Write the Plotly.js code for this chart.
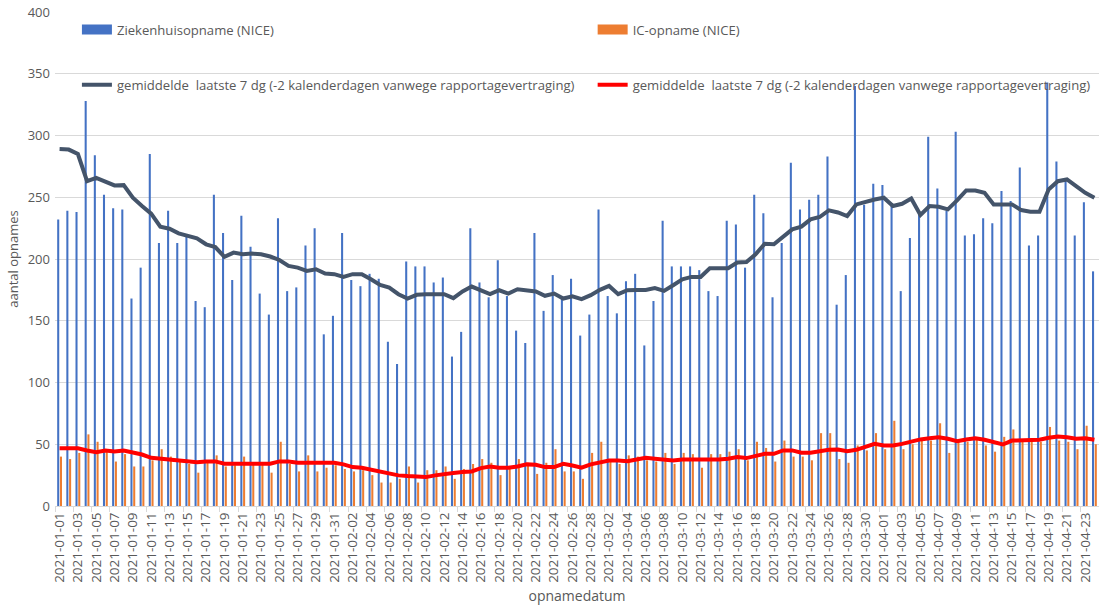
<!DOCTYPE html>
<html>
<head>
<meta charset="utf-8">
<script src="https://cdn.plot.ly/plotly-3.0.1.min.js"></script>
<style>
  html, body { margin: 0; padding: 0; background: #fff; }
  #grafiek { width: 1099px; height: 609px; }
</style>
</head>
<body>
<div id="grafiek"></div>
<script>
// opnamedatum: 2021-01-01 t/m 2021-04-24
var datums = [];
var d = new Date(Date.UTC(2021, 0, 1));
for (var i = 0; i < 114; i++) {
  datums.push(d.toISOString().slice(0, 10));
  d.setUTCDate(d.getUTCDate() + 1);
}

var ziekenhuis = [232, 239, 238, 328, 284, 252, 241, 240, 168, 193,
  285, 213, 239, 213, 219, 166, 161, 252, 221, 183,
  235, 210, 172, 155, 233, 174, 177, 211, 225, 139,
  154, 221, 183, 178, 188, 184, 133, 115, 198, 194,
  194, 181, 185, 121, 141, 225, 181, 169, 199, 170,
  142, 132, 221, 158, 187, 168, 184, 138, 155, 240,
  170, 156, 182, 188, 130, 166, 231, 194, 194, 194,
  191, 174, 170, 231, 228, 193, 252, 237, 169, 213,
  278, 240, 248, 252, 283, 163, 187, 340, 244, 261,
  260, 243, 174, 217, 238, 299, 257, 239, 303, 219,
  220, 233, 229, 255, 247, 274, 211, 219, 343, 279,
  265, 219, 246, 190];

var ic = [40, 38, 43, 58, 52, 44, 36, 42, 32, 32,
  37, 46, 40, 37, 34, 27, 35, 41, 32, 33,
  40, 34, 34, 27, 52, 34, 28, 41, 28, 31,
  33, 30, 28, 29, 25, 19, 19, 22, 32, 19,
  29, 29, 32, 22, 30, 34, 38, 35, 25, 30,
  38, 35, 26, 35, 46, 28, 28, 22, 43, 52,
  38, 34, 41, 40, 37, 36, 43, 34, 43, 42,
  31, 42, 42, 44, 46, 37, 52, 47, 36, 53,
  40, 40, 37, 59, 59, 38, 35, 49, 45, 59,
  46, 69, 46, 50, 53, 53, 67, 43, 52, 52,
  54, 49, 44, 56, 62, 53, 52, 52, 64, 53,
  52, 46, 65, 50];

var gemZiekenhuis = [289, 288.6, 285, 263, 265.7, 262.5, 259.6, 259.8, 249.6, 242.9,
  236.7, 226.2, 224.5, 220.8, 218.6, 216.7, 211.9, 209.7, 201.7, 205.2,
  203.8, 204.4, 203.8, 202, 199.2, 194.4, 193, 190.4, 191.7, 188.2,
  187.7, 185.5, 187.7, 187.7, 183.6, 179, 176.9, 171.5, 168, 171,
  171.5, 171.5, 171.5, 168.3, 173.7, 177.7, 175, 171.5, 174.7, 172,
  175.5, 174.7, 173.7, 170.2, 172, 168, 169.8, 167.5, 170.7, 175,
  178.2, 171.5, 174.7, 175, 175, 176.4, 174.2, 178.8, 183.6, 185.5,
  185.5, 192.5, 192.5, 192.5, 197.1, 197.6, 203.8, 212.4, 211.9, 218.1,
  224, 226.2, 232.1, 234, 239.4, 237.7, 234.8, 244.2, 246.4, 248.2,
  249.6, 242.9, 244.7, 249, 235.6, 242.9, 242.3, 240.2, 247.4, 255.5,
  255.5, 253.6, 244.2, 244.2, 244.2, 239.6, 238.3, 238.3, 256.3, 263,
  264.4, 259, 253.6, 249.6];

var gemIc = [46.8, 46.8, 46.8, 45, 43.6, 45, 44.2, 45, 43.6, 41.7,
  39, 38.2, 37.4, 37.4, 36.1, 35.5, 36.1, 36.1, 34.2, 34.2,
  34.2, 34.2, 34.7, 34.2, 36.1, 36.1, 35, 35, 34.2, 34.2,
  35, 33.7, 31.5, 31, 29.3, 27.5, 26.1, 24.8, 24.2, 23.4,
  23.4, 24.8, 26.1, 26.7, 27.5, 28, 30.7, 32, 31, 31,
  32, 33.7, 33.4, 31.5, 31.5, 34.2, 32.8, 31, 33.7, 35.5,
  36.9, 36.9, 36.3, 37.7, 39, 38.2, 37.4, 36.9, 37.7, 37.7,
  36.9, 36.9, 37.7, 38.2, 39.6, 38.8, 40.9, 42.3, 42.3, 45,
  45, 43.1, 43.1, 44.4, 45.5, 45.8, 44.4, 45.5, 48.2, 50.3,
  49, 49, 50.3, 52.5, 53.9, 54.9, 55.7, 54.4, 52.5, 53.9,
  54.9, 53.6, 51.7, 49.8, 53, 53, 53, 53.6, 55.2, 56.3,
  55.7, 54.4, 54.9, 53.6];

var blauw = '#4472C4';
var oranje = '#ED7D31';
var donker = '#44546A';
var rood = '#FF0000';
var tekstKleur = '#595959';
var gemTekst = 'gemiddelde\u00a0 laatste 7 dg (-2 kalenderdagen vanwege rapportagevertraging)';

var data = [
  {x: datums, y: ziekenhuis, type: 'bar', name: 'Ziekenhuisopname (NICE)',
   marker: {color: blauw}, showlegend: false, hoverinfo: 'x+y'},
  {x: datums, y: ic, type: 'bar', name: 'IC-opname (NICE)',
   marker: {color: oranje}, showlegend: false, hoverinfo: 'x+y'},
  {x: datums, y: gemZiekenhuis, type: 'scatter', mode: 'lines', name: gemTekst,
   line: {color: donker, width: 4}, legend: 'legend3'},
  {x: datums, y: gemIc, type: 'scatter', mode: 'lines', name: gemTekst,
   line: {color: rood, width: 4}, legend: 'legend4'},
  // legenda-blokjes voor de staven (breed rechthoekje zoals in Excel)
  {x: [null], y: [null], type: 'scatter', mode: 'lines', name: 'Ziekenhuisopname (NICE)',
   line: {color: blauw, width: 10}, legend: 'legend'},
  {x: [null], y: [null], type: 'scatter', mode: 'lines', name: 'IC-opname (NICE)',
   line: {color: oranje, width: 10}, legend: 'legend2'}
];

var legendFont = {family: 'Open Sans', size: 13.1, color: tekstKleur};
function legenda(x, y) {
  return {x: x, y: y, xanchor: 'left', yanchor: 'middle', orientation: 'h',
    bgcolor: 'rgba(0,0,0,0)', borderwidth: 0, font: legendFont, itemwidth: 30};
}

var layout = {
  width: 1099,
  height: 609,
  margin: {l: 55, r: 0, t: 12, b: 103},
  font: {family: 'Open Sans', color: tekstKleur},
  barmode: 'group',
  bargap: 0.4,
  bargroupgap: 0.25,
  xaxis: {
    type: 'category',
    range: [-0.5, 113.5],
    dtick: 2,
    tickangle: -90,
    tickfont: {size: 13.5, color: tekstKleur},
    ticks: 'outside',
    tickson: 'boundaries',
    ticklen: 5,
    tickcolor: '#D9D9D9',
    showline: true,
    linecolor: '#D9D9D9',
    showgrid: false,
    title: {text: 'opnamedatum', font: {size: 14, color: tekstKleur}, standoff: 9}
  },
  yaxis: {
    range: [0, 400],
    dtick: 50,
    tickfont: {size: 13, color: tekstKleur},
    gridcolor: '#D9D9D9',
    zeroline: false,
    showline: false,
    ticklabelstandoff: 4,
    title: {text: 'aantal opnames', font: {size: 13, color: tekstKleur}, standoff: 6}
  },
  legend: legenda(0.021, 0.9635),
  legend2: legenda(0.515, 0.9635),
  legend3: legenda(0.021, 0.852),
  legend4: legenda(0.515, 0.852),
  plot_bgcolor: '#fff',
  paper_bgcolor: '#fff'
};

Plotly.newPlot('grafiek', data, layout, {displayModeBar: false});
</script>
</body>
</html>
